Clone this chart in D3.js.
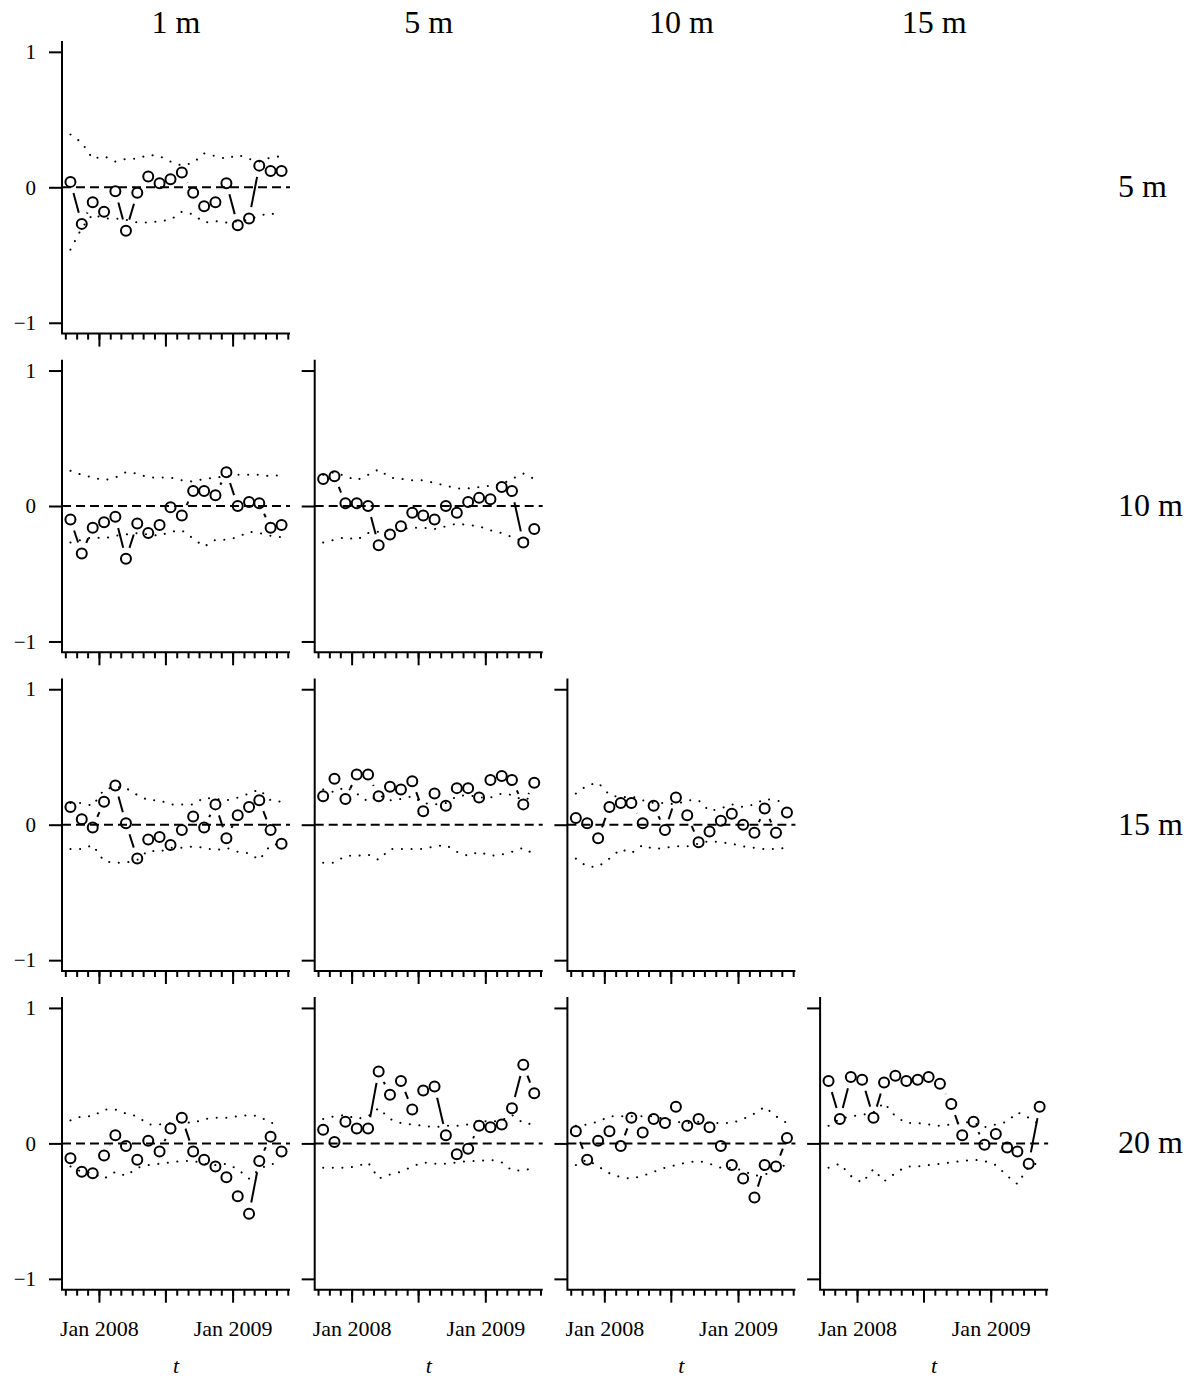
<!DOCTYPE html>
<html>
<head>
<meta charset="utf-8">
<script src="https://cdn.jsdelivr.net/npm/d3@7/dist/d3.min.js"></script>
<style>
  body { margin: 0; background: #fff; }
  svg text { font-family: "Liberation Serif", "Times New Roman", serif; fill: #000; }
</style>
</head>
<body>
<div id="chart"></div>
<script>
// ---- data ----
const months = ["2007-10-15", "2007-11-15", "2007-12-15", "2008-01-15", "2008-02-15",
  "2008-03-15", "2008-04-15", "2008-05-15", "2008-06-15", "2008-07-15", "2008-08-15",
  "2008-09-15", "2008-10-15", "2008-11-15", "2008-12-15", "2009-01-15", "2009-02-15",
  "2009-03-15", "2009-04-15", "2009-05-15"];
const colDepths = ["1 m", "5 m", "10 m", "15 m"];
const rowDepths = ["5 m", "10 m", "15 m", "20 m"];
const yTicks = [-1, 0, 1];

// 5 m row
const cor5_1 = [0.04, -0.27, -0.11, -0.18, -0.03, -0.32, -0.04, 0.08, 0.03, 0.06, 0.11, -0.04, -0.14, -0.11, 0.03, -0.28, -0.23, 0.16, 0.12, 0.12];
const up5_1  = [0.39, 0.33, 0.21, 0.23, 0.19, 0.21, 0.21, 0.24, 0.23, 0.19, 0.16, 0.18, 0.25, 0.23, 0.21, 0.24, 0.21, 0.19, 0.22, 0.23];
const lo5_1  = [-0.46, -0.30, -0.20, -0.23, -0.23, -0.24, -0.26, -0.26, -0.25, -0.24, -0.18, -0.20, -0.26, -0.25, -0.26, -0.25, -0.24, -0.21, -0.19, -0.22];

// 10 m row
const cor10_1 = [-0.10, -0.35, -0.16, -0.12, -0.08, -0.39, -0.13, -0.20, -0.14, -0.01, -0.07, 0.11, 0.11, 0.08, 0.25, 0.00, 0.03, 0.02, -0.16, -0.14];
const up10_1  = [0.26, 0.23, 0.21, 0.19, 0.21, 0.25, 0.24, 0.21, 0.21, 0.21, 0.19, 0.18, 0.20, 0.21, 0.22, 0.23, 0.23, 0.23, 0.22, 0.23];
const lo10_1  = [-0.27, -0.25, -0.23, -0.24, -0.22, -0.21, -0.20, -0.21, -0.22, -0.19, -0.18, -0.24, -0.30, -0.25, -0.25, -0.23, -0.19, -0.20, -0.22, -0.23];
const cor10_5 = [0.20, 0.22, 0.02, 0.02, 0.00, -0.29, -0.21, -0.15, -0.05, -0.07, -0.10, 0.00, -0.05, 0.03, 0.06, 0.05, 0.14, 0.11, -0.27, -0.17];
const up10_5  = [0.23, 0.25, 0.22, 0.19, 0.23, 0.27, 0.21, 0.20, 0.19, 0.19, 0.17, 0.15, 0.13, 0.13, 0.14, 0.15, 0.16, 0.20, 0.24, 0.20];
const lo10_5  = [-0.27, -0.25, -0.23, -0.25, -0.20, -0.19, -0.18, -0.17, -0.16, -0.16, -0.17, -0.15, -0.13, -0.14, -0.15, -0.18, -0.20, -0.23, -0.26, -0.23];

// 15 m row
const cor15_1 = [0.13, 0.04, -0.02, 0.17, 0.29, 0.01, -0.25, -0.11, -0.09, -0.15, -0.04, 0.06, -0.02, 0.15, -0.10, 0.07, 0.13, 0.18, -0.04, -0.14];
const up15_1  = [0.16, 0.16, 0.14, 0.26, 0.28, 0.27, 0.22, 0.18, 0.18, 0.15, 0.15, 0.15, 0.20, 0.19, 0.18, 0.20, 0.23, 0.26, 0.18, 0.17];
const lo15_1  = [-0.18, -0.18, -0.15, -0.27, -0.28, -0.28, -0.26, -0.19, -0.20, -0.17, -0.17, -0.16, -0.17, -0.19, -0.17, -0.20, -0.21, -0.26, -0.15, -0.14];
const cor15_5 = [0.21, 0.34, 0.19, 0.37, 0.37, 0.21, 0.28, 0.26, 0.32, 0.10, 0.23, 0.14, 0.27, 0.27, 0.20, 0.33, 0.36, 0.33, 0.15, 0.31];
const up15_5  = [0.26, 0.24, 0.28, 0.23, 0.17, 0.22, 0.18, 0.19, 0.21, 0.16, 0.15, 0.16, 0.21, 0.22, 0.20, 0.20, 0.23, 0.22, 0.18, 0.21];
const lo15_5  = [-0.28, -0.28, -0.23, -0.23, -0.22, -0.26, -0.18, -0.18, -0.18, -0.18, -0.16, -0.15, -0.20, -0.23, -0.20, -0.23, -0.22, -0.20, -0.17, -0.22];
const cor15_10 = [0.05, 0.01, -0.10, 0.13, 0.16, 0.16, 0.01, 0.14, -0.04, 0.20, 0.07, -0.13, -0.05, 0.03, 0.08, 0.00, -0.06, 0.12, -0.06, 0.09];
const up15_10  = [0.23, 0.29, 0.31, 0.22, 0.20, 0.21, 0.18, 0.16, 0.16, 0.15, 0.18, 0.18, 0.10, 0.12, 0.15, 0.13, 0.15, 0.19, 0.18, 0.16];
const lo15_10  = [-0.25, -0.31, -0.31, -0.25, -0.18, -0.21, -0.15, -0.18, -0.17, -0.16, -0.16, -0.14, -0.12, -0.13, -0.14, -0.16, -0.17, -0.18, -0.18, -0.17];

// 20 m row
const cor20_1 = [-0.11, -0.21, -0.22, -0.09, 0.06, -0.02, -0.12, 0.02, -0.06, 0.11, 0.19, -0.06, -0.12, -0.17, -0.25, -0.39, -0.52, -0.13, 0.05, -0.06];
const up20_1  = [0.17, 0.20, 0.20, 0.25, 0.25, 0.22, 0.20, 0.14, 0.14, 0.15, 0.16, 0.15, 0.18, 0.19, 0.19, 0.20, 0.21, 0.20, 0.15, 0.15];
const lo20_1  = [-0.17, -0.21, -0.22, -0.26, -0.21, -0.24, -0.18, -0.16, -0.15, -0.14, -0.13, -0.13, -0.15, -0.16, -0.15, -0.19, -0.26, -0.19, -0.15, -0.16];
const cor20_5 = [0.10, 0.01, 0.16, 0.11, 0.11, 0.53, 0.36, 0.46, 0.25, 0.39, 0.42, 0.06, -0.08, -0.04, 0.13, 0.12, 0.14, 0.26, 0.58, 0.37];
const up20_5  = [0.18, 0.20, 0.21, 0.18, 0.20, 0.26, 0.18, 0.15, 0.14, 0.13, 0.12, 0.13, 0.13, 0.14, 0.17, 0.16, 0.17, 0.21, 0.15, 0.14];
const lo20_5  = [-0.18, -0.18, -0.18, -0.17, -0.14, -0.26, -0.23, -0.21, -0.17, -0.14, -0.15, -0.15, -0.14, -0.13, -0.13, -0.12, -0.14, -0.20, -0.20, -0.18];
const cor20_10 = [0.09, -0.12, 0.02, 0.09, -0.02, 0.19, 0.08, 0.18, 0.15, 0.27, 0.13, 0.18, 0.12, -0.02, -0.16, -0.26, -0.40, -0.16, -0.17, 0.04];
const up20_10  = [0.13, 0.14, 0.16, 0.20, 0.20, 0.20, 0.20, 0.20, 0.18, 0.16, 0.15, 0.16, 0.15, 0.15, 0.15, 0.18, 0.22, 0.27, 0.20, 0.15];
const lo20_10  = [-0.16, -0.12, -0.17, -0.22, -0.25, -0.26, -0.24, -0.21, -0.18, -0.16, -0.14, -0.13, -0.15, -0.18, -0.18, -0.20, -0.24, -0.23, -0.20, -0.15];
const cor20_15 = [0.46, 0.18, 0.49, 0.47, 0.19, 0.45, 0.50, 0.46, 0.47, 0.49, 0.44, 0.29, 0.06, 0.16, -0.01, 0.07, -0.03, -0.06, -0.15, 0.27];
const up20_15  = [0.13, 0.18, 0.20, 0.21, 0.23, 0.30, 0.20, 0.15, 0.15, 0.14, 0.13, 0.14, 0.16, 0.15, 0.12, 0.14, 0.16, 0.23, 0.19, 0.14];
const lo20_15  = [-0.18, -0.15, -0.24, -0.29, -0.19, -0.28, -0.22, -0.17, -0.17, -0.16, -0.15, -0.14, -0.13, -0.12, -0.13, -0.16, -0.24, -0.30, -0.17, -0.14];

const panels = [
  { row: 0, col: 0, cor: cor5_1, up: up5_1, lo: lo5_1 },
  { row: 1, col: 0, cor: cor10_1, up: up10_1, lo: lo10_1 },
  { row: 1, col: 1, cor: cor10_5, up: up10_5, lo: lo10_5 },
  { row: 2, col: 0, cor: cor15_1, up: up15_1, lo: lo15_1 },
  { row: 2, col: 1, cor: cor15_5, up: up15_5, lo: lo15_5 },
  { row: 2, col: 2, cor: cor15_10, up: up15_10, lo: lo15_10 },
  { row: 3, col: 0, cor: cor20_1, up: up20_1, lo: lo20_1 },
  { row: 3, col: 1, cor: cor20_5, up: up20_5, lo: lo20_5 },
  { row: 3, col: 2, cor: cor20_10, up: up20_10, lo: lo20_10 },
  { row: 3, col: 3, cor: cor20_15, up: up20_15, lo: lo20_15 }
];

// ---- layout ----
const width = 1202, height = 1380;
const plotW = 228, plotH = 292.6;
const colStep = 252.7, rowStep = 318.7;
const left0 = 62, top0 = 41;
const gap = 11.5;       // type="b" gap around each point

const dates = months.map(d3.timeParse("%Y-%m-%d"));

// R style 4% axis extension
const t0 = +dates[0], t1 = +dates[dates.length - 1];
const pad = (t1 - t0) * 0.04;
const x = d3.scaleTime().domain([new Date(t0 - pad), new Date(t1 + pad)]).range([0, plotW]);
const y = d3.scaleLinear().domain([-1.08, 1.08]).range([plotH, 0]);

const svg = d3.select("#chart").append("svg")
  .attr("width", width)
  .attr("height", height);

// column titles
svg.selectAll("text.coltitle")
  .data(colDepths)
  .enter().append("text")
  .attr("class", "coltitle")
  .attr("x", (d, i) => left0 + i * colStep + plotW / 2)
  .attr("y", 33)
  .attr("text-anchor", "middle")
  .style("font-size", "32px")
  .text(d => d);

// row labels
svg.selectAll("text.rowtitle")
  .data(rowDepths)
  .enter().append("text")
  .attr("class", "rowtitle")
  .attr("x", 1118)
  .attr("y", (d, i) => top0 + i * rowStep + y(0) + 10)
  .style("font-size", "32px")
  .text(d => d);

const fmt = d3.timeFormat("%b %Y");

panels.forEach(p => {
  const g = svg.append("g")
    .attr("transform", `translate(${left0 + p.col * colStep},${top0 + p.row * rowStep})`);
  const bottom = p.row === 3;
  const first = p.col === 0;

  // L frame
  g.append("path")
    .attr("d", `M0,0V${plotH}H${plotW}`)
    .attr("fill", "none")
    .attr("stroke", "#000")
    .attr("stroke-width", 2);

  // y axis (labels only on the first column)
  const ya = g.append("g")
    .call(d3.axisLeft(y).tickValues(yTicks).tickSize(13).tickPadding(13)
      .tickFormat(d => !first ? "" : d < 0 ? "\u2212" + Math.abs(d) : d));
  ya.select(".domain").remove();
  ya.selectAll("line").attr("stroke-width", 2);
  ya.selectAll("text").style("font-size", "21px").style("font-family", null);

  // x axis: monthly minor ticks, half-year major ticks
  const xMinor = g.append("g")
    .attr("transform", `translate(0,${plotH})`)
    .call(d3.axisBottom(x).ticks(d3.timeMonth.every(1)).tickSize(6).tickFormat(""));
  xMinor.select(".domain").remove();
  xMinor.selectAll("line").attr("stroke-width", 2);

  const xMajor = g.append("g")
    .attr("transform", `translate(0,${plotH})`)
    .call(d3.axisBottom(x).ticks(d3.timeMonth.every(6)).tickSize(13)
      .tickFormat(d => bottom && d.getMonth() === 0 ? fmt(d) : ""));
  xMajor.select(".domain").remove();
  xMajor.selectAll("line").attr("stroke-width", 2);
  xMajor.selectAll("text")
    .attr("y", 46).attr("dy", 0)
    .style("font-size", "22px").style("font-family", null);

  if (bottom) {
    g.append("text")
      .attr("x", plotW / 2)
      .attr("y", plotH + 83)
      .attr("text-anchor", "middle")
      .style("font-size", "22px")
      .style("font-style", "italic")
      .text("t");
  }

  // zero reference
  g.append("line")
    .attr("x1", 0).attr("x2", plotW)
    .attr("y1", y(0)).attr("y2", y(0))
    .attr("stroke", "#000")
    .attr("stroke-width", 2)
    .attr("stroke-dasharray", "9,5");

  // dotted envelopes
  const band = d3.line().x((d, i) => x(dates[i])).y(d => y(d));
  [p.up, p.lo].forEach(arr => {
    g.append("path")
      .attr("d", band(arr))
      .attr("fill", "none")
      .attr("stroke", "#000")
      .attr("stroke-width", 2)
      .attr("stroke-linecap", "round")
      .attr("stroke-dasharray", "0.1,9.5");
  });

  // connecting segments with gaps (type = "b")
  const pts = p.cor.map((v, i) => [x(dates[i]), y(v)]);
  const segs = d3.pairs(pts).filter(([a, b]) => Math.hypot(b[0] - a[0], b[1] - a[1]) > 2 * gap);
  g.selectAll("line.seg")
    .data(segs)
    .enter().append("line")
    .attr("class", "seg")
    .each(function([a, b]) {
      const L = Math.hypot(b[0] - a[0], b[1] - a[1]);
      const ux = (b[0] - a[0]) / L, uy = (b[1] - a[1]) / L;
      d3.select(this)
        .attr("x1", a[0] + ux * gap).attr("y1", a[1] + uy * gap)
        .attr("x2", b[0] - ux * gap).attr("y2", b[1] - uy * gap);
    })
    .attr("stroke", "#000")
    .attr("stroke-width", 2);

  // points
  g.selectAll("circle")
    .data(p.cor)
    .enter().append("circle")
    .attr("cx", (d, i) => x(dates[i]))
    .attr("cy", d => y(d))
    .attr("r", 5)
    .attr("fill", "none")
    .attr("stroke", "#000")
    .attr("stroke-width", 2);
});
</script>
</body>
</html>
